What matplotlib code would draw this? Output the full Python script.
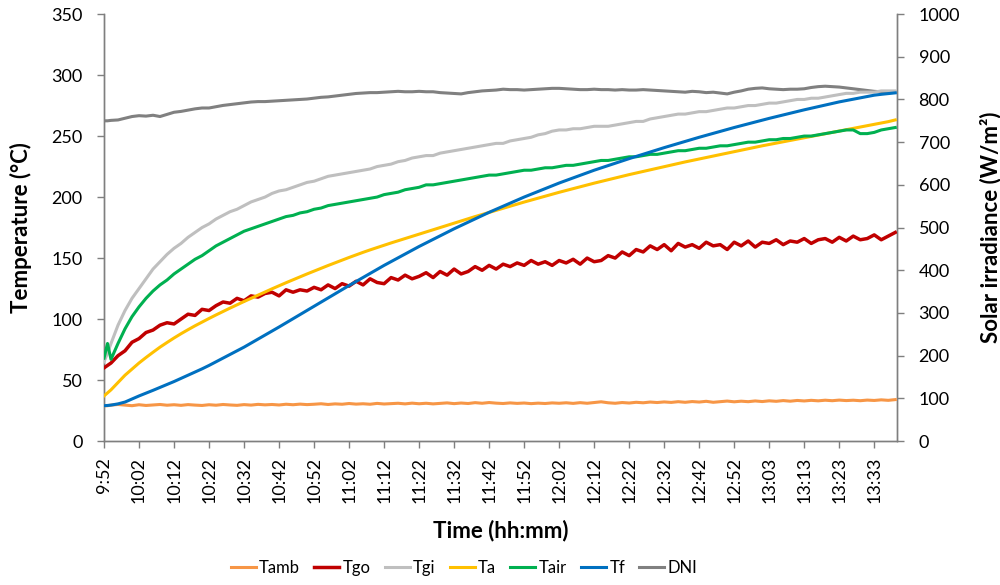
import matplotlib
matplotlib.use("Agg")
import matplotlib.pyplot as plt

plt.rcParams['font.family'] = ['Lato', 'DejaVu Sans']

# sample times, minutes after 9:52
minutes = [0, 1, 2] + list(range(4, 227, 2))

tick_minutes = list(range(0, 221, 10))
tick_labels = ["9:52", "10:02", "10:12", "10:22", "10:32", "10:42", "10:52", "11:02",
               "11:12", "11:22", "11:32", "11:42", "11:52", "12:02", "12:12", "12:22",
               "12:32", "12:42", "12:52", "13:03", "13:13", "13:23", "13:33"]

tamb = [29, 29, 29.5, 30, 29.5, 29, 29.8, 29.2, 29.6, 30, 29.4, 29.8, 29.3, 29.9, 29.5, 29.2,
        29.8, 29.4, 30, 29.6, 29.3, 29.9, 29.5, 30.1, 29.7, 30, 29.6, 30.2, 29.8, 30.3, 29.9,
        30.2, 30.6, 30, 30.5, 30.2, 30.8, 30.3, 30.6, 30.2, 30.9, 30.4, 30.7, 31, 30.5, 31.1,
        30.6, 31, 30.5, 30.9, 31.3, 30.7, 31.2, 30.8, 31.5, 31, 31.6, 31.1, 30.8, 31.3, 30.9,
        31.2, 30.7, 31.1, 30.8, 31.3, 31, 31.4, 30.9, 31.5, 31, 31.6, 32.2, 31.4, 31, 31.6,
        31.2, 31.8, 31.4, 32, 31.6, 32.1, 31.7, 32.3, 31.8, 32.4, 32, 32.6, 31.8, 32.3, 32.8,
        32.2, 32.7, 32.3, 32.9, 32.4, 33, 32.6, 33.2, 32.7, 33.3, 32.9, 33.4, 33, 33.5, 33.1,
        33.6, 33.2, 33.5, 33.1, 33.6, 33.3, 33.8, 33.4, 34]

tgo = [60, 62, 64, 70, 74, 81, 84, 89, 91, 95, 97, 96, 100, 104, 103, 108, 107, 111, 114, 113, 117,
       115, 119, 118, 121, 122, 119, 124, 122, 124, 123, 126, 124, 128, 125, 129, 127, 131, 128, 133, 130,
       129, 134, 132, 136, 133, 135, 138, 134, 139, 136, 141, 137, 139, 143, 140, 144, 141, 145, 143, 146,
       144, 148, 145, 147, 144, 148, 146, 149, 145, 150, 147, 148, 152, 150, 155, 152, 157, 155, 160, 157,
       161, 156, 162, 159, 161, 158, 163, 160, 161, 157, 163, 160, 164, 159, 163, 162, 165, 161, 164, 163,
       166, 162, 165, 166, 163, 167, 164, 168, 165, 166, 169, 165, 168, 171]

tgi = [65, 72, 80, 95, 107, 117, 125, 133, 141, 147, 153, 158, 162, 167, 171, 175, 178, 182,
       185, 188, 190, 193, 196, 198, 200, 203, 205, 206, 208, 210, 212, 213, 215, 217, 218,
       219, 220, 221, 222, 223, 225, 226, 227, 229, 230, 232, 233, 234, 234, 236, 237, 238,
       239, 240, 241, 242, 243, 244, 244, 246, 247, 248, 249, 251, 252, 254, 255, 255, 256,
       256, 257, 258, 258, 258, 259, 260, 261, 262, 262, 264, 265, 266, 267, 268, 268, 269,
       270, 270, 271, 272, 273, 273, 274, 275, 275, 276, 277, 277, 278, 279, 280, 280, 281,
       281, 282, 283, 284, 285, 285, 286, 286, 286, 287, 287, 287]

ta = [37, 39.5, 42, 48, 54, 59, 64, 68.5, 72.8, 77, 80.8, 84.5, 88, 91.3, 94.5, 97.5, 100.5,
      103.4, 106.2, 109, 111.7, 114.4, 117, 119.6, 122.2, 124.8, 127.3, 129.8, 132.2, 134.6,
      137, 139.3, 141.6, 143.9, 146.1, 148.3, 150.5, 152.6, 154.7, 156.7, 158.6, 160.5,
      162.4, 164.2, 166, 167.8, 169.6, 171.4, 173.2, 175, 176.8, 178.6, 180.4, 182.2, 184,
      185.7, 187.4, 189.1, 190.8, 192.5, 194.2, 195.9, 197.5, 199.1, 200.7, 202.3, 203.9,
      205.4, 206.9, 208.4, 209.9, 211.4, 212.8, 214.2, 215.6, 217, 218.4, 219.7, 221, 222.3,
      223.6, 224.9, 226.2, 227.5, 228.8, 230, 231.2, 232.4, 233.6, 234.8, 236, 237.2, 238.4,
      239.6, 240.8, 242, 243.1, 244.2, 245.3, 246.4, 247.5, 248.6, 249.7, 250.8, 251.9,
      253, 254.1, 255.2, 256.3, 257.4, 258.5, 259.6, 260.7, 261.8, 263.2]

tair = [68, 80, 67, 80, 92, 102, 110, 117, 123, 128, 132, 137, 141, 145, 149, 152, 156, 160,
        163, 166, 169, 172, 174, 176, 178, 180, 182, 184, 185, 187, 188, 190, 191, 193, 194,
        195, 196, 197, 198, 199, 200, 202, 203, 204, 206, 207, 208, 210, 210, 211, 212, 213,
        214, 215, 216, 217, 218, 218, 219, 220, 221, 222, 222, 223, 224, 224, 225, 226, 226,
        227, 228, 229, 230, 230, 231, 232, 233, 233, 234, 235, 235, 236, 237, 238, 238, 239,
        240, 240, 241, 242, 242, 243, 244, 245, 245, 246, 247, 247, 248, 248, 249, 250, 250,
        251, 252, 253, 254, 255, 255, 252, 252, 253, 255, 256, 257]

tf = [29, 29.2, 29.5, 30.5, 32, 34.5, 37, 39.3, 41.6, 44, 46.4, 48.8, 51.4, 54, 56.6, 59.2, 62,
      65, 68, 71, 74, 77, 80.3, 83.6, 86.9, 90.2, 93.5, 96.9, 100.3, 103.7, 107.1, 110.5,
      113.9, 117.3, 120.7, 124.1, 127.5, 130.8, 134.1, 137.4, 140.7, 144, 147.1, 150.2, 153.3,
      156.4, 159.5, 162.4, 165.3, 168.2, 171.1, 174, 176.7, 179.4, 182.1, 184.8, 187.5, 190,
      192.5, 195, 197.5, 200, 202.3, 204.6, 206.9, 209.2, 211.5, 213.6, 215.7, 217.8, 219.9,
      222, 223.9, 225.8, 227.7, 229.6, 231.5, 233.3, 235.1, 236.9, 238.7, 240.5, 242.2,
      243.9, 245.6, 247.3, 249, 250.6, 252.2, 253.8, 255.4, 257, 258.5, 260, 261.5, 263,
      264.5, 265.9, 267.3, 268.7, 270.1, 271.5, 272.8, 274.1, 275.4, 276.7, 278, 279.1,
      280.2, 281.3, 282.4, 283.5, 284.2, 284.8, 285.4]

dni = [750, 750, 751, 752, 756, 760, 762, 761, 763, 760, 765, 770, 772, 775, 778, 780, 780,
       783, 786, 788, 790, 792, 794, 795, 795, 796, 797, 798, 799, 800, 801, 803, 805, 806,
       808, 810, 812, 814, 815, 816, 816, 817, 818, 819, 818, 818, 819, 818, 818, 816, 815,
       814, 813, 816, 818, 820, 821, 822, 824, 823, 823, 822, 823, 824, 825, 826, 826, 825,
       824, 823, 823, 824, 823, 823, 822, 823, 822, 822, 823, 822, 821, 820, 819, 818, 817,
       819, 818, 816, 817, 815, 813, 817, 820, 824, 826, 827, 825, 824, 823, 824, 824, 825,
       828, 830, 831, 830, 829, 827, 825, 823, 821, 819, 818, 817, 818]

temp_series = [
    ("Tamb", tamb, "#F79646", 2.2),
    ("Tgo", tgo, "#C00000", 2.5),
    ("Tgi", tgi, "#BFBFBF", 2.2),
    ("Ta", ta, "#FFC000", 2.2),
    ("Tair", tair, "#00B050", 2.2),
    ("Tf", tf, "#0070C0", 2.2),
]

axis_gray = "#7F7F7F"
fs = 13
title_fs = 16
legend_fs = 12

fig = plt.figure(figsize=(10, 5.85), dpi=100)
ax = fig.add_axes([0.104, 0.246, 0.793, 0.730])
ax2 = ax.twinx()

handles = []
for name, vals, col, lw in temp_series:
    h, = ax.plot(minutes, vals, color=col, lw=lw, label=name, zorder=3)
    handles.append(h)
h, = ax2.plot(minutes, dni, color="#808080", lw=2.2, label="DNI")
handles.append(h)

ax.set_zorder(ax2.get_zorder() + 1)
ax.patch.set_visible(False)

ax.set_xlim(0, 226.5)
ax.set_ylim(0, 350)
ax2.set_ylim(0, 1000)
ax.set_yticks(range(0, 351, 50))
ax2.set_yticks(range(0, 1001, 100))
ax.set_xticks(tick_minutes)
ax.set_xticklabels(tick_labels, rotation=90)

for a in (ax, ax2):
    for s in a.spines.values():
        s.set_color(axis_gray)
        s.set_linewidth(1.0)
    a.spines['top'].set_visible(False)
    a.tick_params(axis='both', colors=axis_gray, labelcolor='black', labelsize=fs,
                  length=5, width=1.0, direction='out')
    a.tick_params(axis='y', pad=10.5)
ax.tick_params(axis='x', pad=6.5)

ax.set_ylabel("Temperature (°C)", fontsize=title_fs, fontweight='bold', labelpad=14)
ax2.set_ylabel("Solar irradiance (W/m²)", fontsize=title_fs, fontweight='bold', labelpad=14)
ax.set_xlabel("Time (hh:mm)", fontsize=title_fs, fontweight='bold', labelpad=12)

fig.legend(handles=handles, loc='center', bbox_to_anchor=(0.464, 1 - 568 / 585), ncol=7,
           frameon=False, fontsize=legend_fs, handlelength=1.5, handletextpad=0.2,
           columnspacing=0.85)

fig.savefig("out.png", dpi=100)
